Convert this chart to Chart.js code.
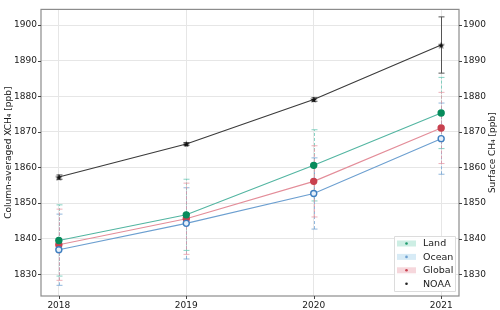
<!DOCTYPE html>
<html>
<head>
<meta charset="utf-8">
<script src="https://cdn.jsdelivr.net/npm/chart.js@4.4.1/dist/chart.umd.min.js"></script>
<style>
  html, body { margin: 0; padding: 0; background: #fff; }
  #wrap { width: 500px; height: 310px; position: relative; }
</style>
</head>
<body>
<div id="wrap"><canvas id="ch"></canvas></div>
<script>
// values
var YEARS = [2018, 2019, 2020, 2021];
var Y_TICKS = [1830, 1840, 1850, 1860, 1870, 1880, 1890, 1900];

var LAND = [1839.5, 1846.7, 1860.6, 1875.3];
var LAND_ERR = [10.0, 10.0, 10.0, 10.0];
var OCEAN = [1836.9, 1844.3, 1852.7, 1868.1];
var OCEAN_ERR = [10.0, 10.0, 10.0, 10.0];
var GLOBAL = [1838.3, 1845.6, 1856.1, 1871.1];
var GLOBAL_ERR = [10.0, 10.0, 10.0, 10.0];
var NOAA = [1857.3, 1866.6, 1879.1, 1894.4];
var NOAA_ERR = [0.6, 0.4, 0.5, 7.9];

var FONT = "'DejaVu Sans', sans-serif";
var INK = "#1a1a1a";

function pts(vals) { return vals.map(function (v, i) { return { x: YEARS[i], y: v }; }); }

// filled star marker (matplotlib '*')
function starImg(size, color) {
  var c = document.createElement("canvas");
  c.width = size; c.height = size;
  var g = c.getContext("2d"), r = size / 2, ri = r * 0.45;
  g.beginPath();
  for (var i = 0; i < 10; i++) {
    var a = -Math.PI / 2 + i * Math.PI / 5, rr = i % 2 ? ri : r;
    g.lineTo(r + rr * Math.cos(a), r + rr * Math.sin(a) + 0.4);
  }
  g.closePath(); g.fillStyle = color; g.fill();
  return c;
}

var series = [
  { label: "Land", data: LAND, err: LAND_ERR, line: "#52b5a1", mk: "#078c5c", mkFill: "#078c5c", errCol: "rgba(96,196,176,0.75)", patch: "#cdeee4", dot: "#1f9a6c" },
  { label: "Ocean", data: OCEAN, err: OCEAN_ERR, line: "#6c9fd0", mk: "#3f7fc0", mkFill: "#e6eff9", errCol: "rgba(110,160,210,0.75)", patch: "#d7ebf6", dot: "#6c9fd0" },
  { label: "Global", data: GLOBAL, err: GLOBAL_ERR, line: "#e38d99", mk: "#c8414f", mkFill: "#c8414f", errCol: "rgba(232,150,162,0.75)", patch: "#f6d7dc", dot: "#c8414f" }
];

var datasets = series.map(function (s) {
  return {
    label: s.label, data: pts(s.data), borderColor: s.line, borderWidth: 1.1,
    pointRadius: 3, pointBorderWidth: 1.4, pointBackgroundColor: s.mkFill, pointBorderColor: s.mk,
    pointHoverRadius: 3, tension: 0, err: s.err, errCol: s.errCol, dashed: true
  };
});
datasets.push({
  label: "NOAA", data: pts(NOAA), borderColor: "#3a3a3a", borderWidth: 1.1,
  pointStyle: starImg(7, "#111"), pointRadius: 3.5, tension: 0, yAxisID: "y2",
  err: NOAA_ERR, errCol: "#555", dashed: false
});

var errorBars = {
  id: "errorBars",
  beforeDatasetsDraw: function (chart) {
    var ctx = chart.ctx;
    chart.data.datasets.forEach(function (ds) {
      var ys = chart.scales[ds.yAxisID || "y"], xs = chart.scales.x;
      ctx.save();
      ctx.strokeStyle = ds.errCol; ctx.lineWidth = 1;
      ds.data.forEach(function (p, i) {
        var x = Math.round(xs.getPixelForValue(p.x)) + 0.5,
            y0 = ys.getPixelForValue(p.y - ds.err[i]), y1 = ys.getPixelForValue(p.y + ds.err[i]);
        ctx.setLineDash(ds.dashed ? [3, 2] : []);
        ctx.beginPath(); ctx.moveTo(x, y0); ctx.lineTo(x, y1); ctx.stroke();
        ctx.setLineDash([]);
        ctx.beginPath(); ctx.moveTo(x - 3, y0); ctx.lineTo(x + 3, y0); ctx.moveTo(x - 3, y1); ctx.lineTo(x + 3, y1); ctx.stroke();
      });
      ctx.restore();
    });
  }
};

var frameAndLegend = {
  id: "frameAndLegend",
  afterDraw: function (chart) {
    var ctx = chart.ctx, a = chart.chartArea;
    ctx.save();
    ctx.strokeStyle = "#8c8c8c"; ctx.lineWidth = 1.2;
    ctx.strokeRect(a.left, a.top, a.right - a.left, a.bottom - a.top);
    // tick marks on both y axes and x axis
    ctx.strokeStyle = "#444"; ctx.lineWidth = 1; ctx.beginPath();
    Y_TICKS.forEach(function (v) {
      var y = Math.round(chart.scales.y.getPixelForValue(v)) + 0.5;
      ctx.moveTo(a.left - 3, y); ctx.lineTo(a.left, y);
      ctx.moveTo(a.right, y); ctx.lineTo(a.right + 3, y);
    });
    YEARS.forEach(function (v) {
      var x = Math.round(chart.scales.x.getPixelForValue(v)) + 0.5;
      ctx.moveTo(x, a.bottom); ctx.lineTo(x, a.bottom + 3);
    });
    ctx.stroke();
    // right axis title, reading bottom-to-top like matplotlib
    ctx.save();
    ctx.translate(493, (a.top + a.bottom) / 2);
    ctx.rotate(-Math.PI / 2);
    ctx.font = "9px " + FONT; ctx.fillStyle = INK; ctx.textAlign = "center"; ctx.textBaseline = "middle";
    ctx.fillText("Surface CH\u2084 [ppb]", 0, 0);
    ctx.restore();
    // legend box
    var bx = 394, by = 236, bw = 61, bh = 55;
    ctx.fillStyle = "rgba(255,255,255,0.9)"; ctx.strokeStyle = "#dcdcdc"; ctx.lineWidth = 1;
    ctx.beginPath(); ctx.rect(bx + 0.5, by + 0.5, bw, bh); ctx.fill(); ctx.stroke();
    ctx.font = "9.5px " + FONT; ctx.textBaseline = "middle";
    var rows = series.concat([{ label: "NOAA", patch: null, dot: "#222" }]);
    rows.forEach(function (s, i) {
      var cy = by + 7.5 + i * 13.4;
      if (s.patch) { ctx.fillStyle = s.patch; ctx.fillRect(397, cy - 3, 19, 6); }
      ctx.fillStyle = s.dot; ctx.beginPath(); ctx.arc(406.5, cy, 1.3, 0, Math.PI * 2); ctx.fill();
      ctx.fillStyle = INK; ctx.fillText(s.label, 423, cy + 0.5);
    });
    ctx.restore();
  }
};

function yAxis(pos, title, grid) {
  return {
    type: "linear", position: pos, min: 1823.9, max: 1904.4,
    afterBuildTicks: function (ax) { ax.ticks = Y_TICKS.map(function (v) { return { value: v }; }); },
    afterFit: function (ax) { ax.width = 41; },
    grid: { display: grid, color: "#e6e6e6", lineWidth: 1, drawTicks: false },
    border: { display: false },
    ticks: { color: INK, font: { size: 9, family: FONT }, padding: 4, callback: function (v) { return String(v); } },
    title: { display: !!title, text: title, color: INK, font: { size: 9, family: FONT }, padding: { top: 3, bottom: 4 } }
  };
}

new Chart(document.getElementById("ch"), {
  type: "line",
  data: { datasets: datasets },
  plugins: [errorBars, frameAndLegend],
  options: {
    responsive: true, maintainAspectRatio: false, animation: false,
    layout: { padding: { top: 5, left: 0, right: 0, bottom: 0 } },
    plugins: { legend: { display: false }, tooltip: { enabled: false } },
    scales: {
      x: {
        type: "linear", min: 2017.86, max: 2021.14,
        afterBuildTicks: function (ax) { ax.ticks = YEARS.map(function (v) { return { value: v }; }); },
        afterFit: function (ax) { ax.height = 14; },
        grid: { color: "#e6e6e6", drawTicks: false },
        border: { display: false },
        ticks: { color: INK, font: { size: 9, family: FONT }, padding: 4, maxRotation: 0, callback: function (v) { return String(v); } }
      },
      y: yAxis("left", "Column-averaged XCH\u2084 [ppb]", true),
      y2: yAxis("right", "", false)
    }
  }
});
</script>
</body>
</html>
